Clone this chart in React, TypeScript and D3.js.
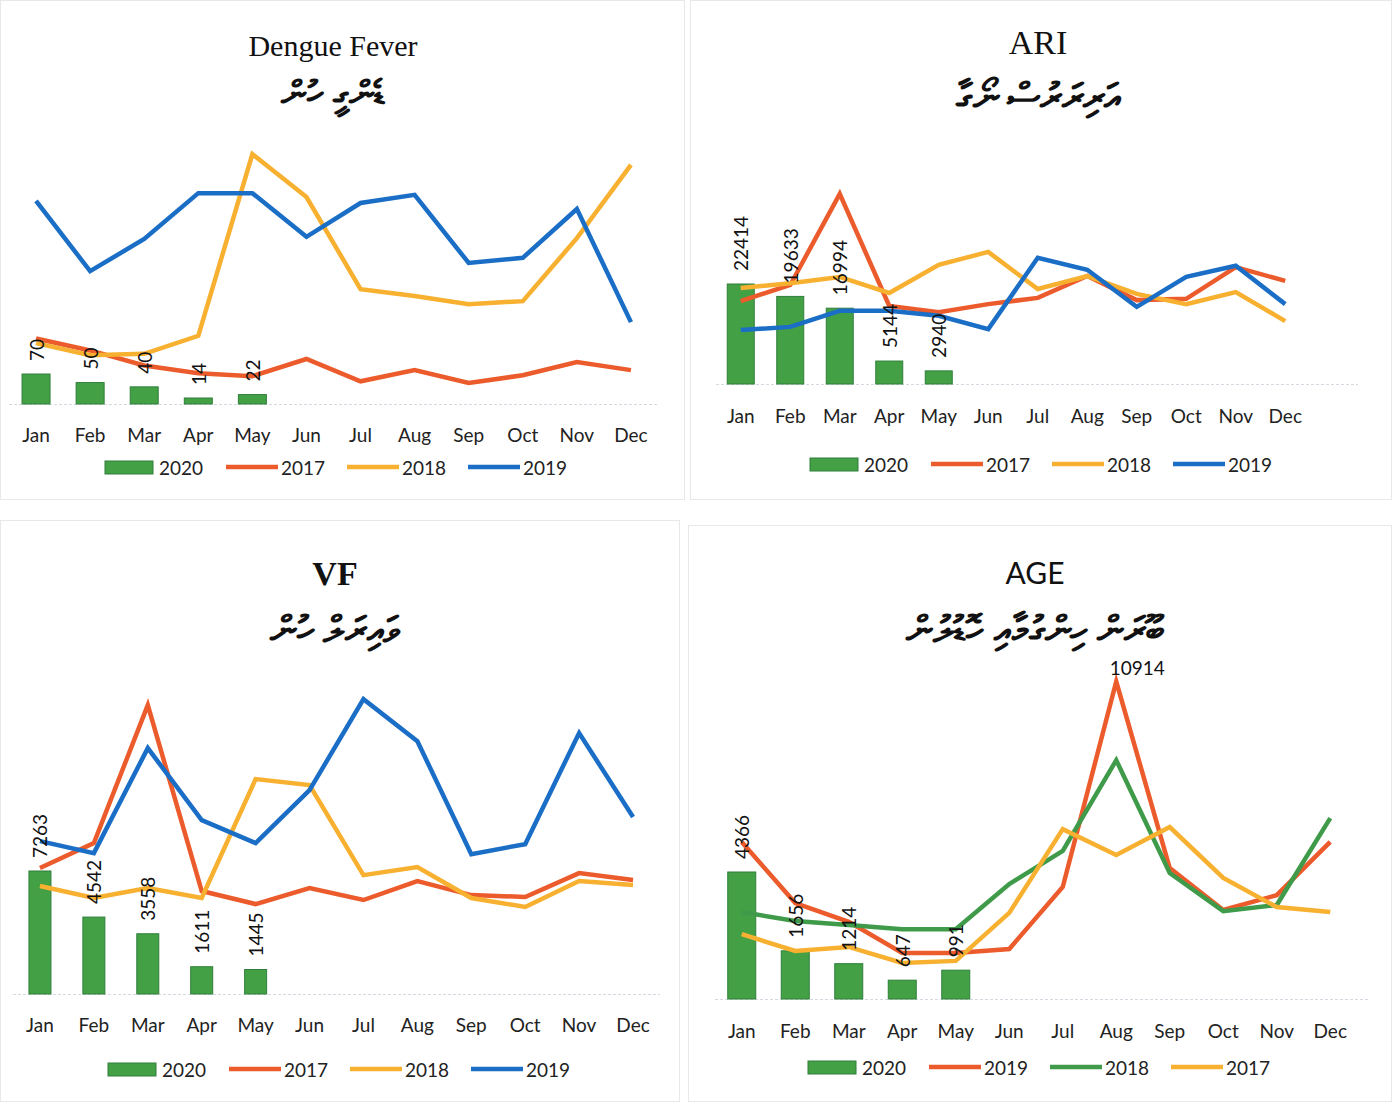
import { useEffect, useRef } from "react";
import * as d3 from "d3";

const months = ["Jan", "Feb", "Mar", "Apr", "May", "Jun", "Jul", "Aug", "Sep", "Oct", "Nov", "Dec"];

// Dengue Fever
const dengue2020 = [70, 50, 40, 14, 22];
const dengue2017 = [153, 125, 90, 72, 65, 105, 53, 79, 49, 67, 98, 79];
const dengue2018 = [142, 114, 117, 159, 583, 483, 268, 252, 233, 240, 387, 558];
const dengue2019 = [474, 310, 385, 492, 492, 390, 469, 488, 329, 341, 455, 191];

// ARI
const ari2020 = [22414, 19633, 16994, 5144, 2940];
const ari2017 = [18600, 22200, 42600, 17500, 16100, 17900, 19300, 24200, 18800, 19100, 26200, 23100];
const ari2018 = [21500, 22600, 24000, 20400, 26700, 29600, 21300, 24200, 20200, 17900, 20600, 14100];
const ari2019 = [12100, 12800, 16400, 16400, 15300, 12300, 28300, 25600, 17300, 24000, 26500, 17900];

// VF
const vf2020 = [7263, 4542, 3558, 1611, 1445];
const vf2017 = [7440, 8910, 17060, 6080, 5310, 6260, 5550, 6670, 5840, 5730, 7140, 6730];
const vf2018 = [6380, 5670, 6260, 5670, 12690, 12340, 7020, 7500, 5670, 5140, 6670, 6430];
const vf2019 = [9030, 8320, 14520, 10270, 8910, 12040, 17410, 14930, 8260, 8850, 15410, 10450];

// AGE
const age2020 = [4366, 1656, 1214, 647, 991];
const age2019 = [5400, 3300, 2650, 1580, 1580, 1720, 3850, 10914, 4500, 3060, 3570, 5400];
const age2018 = [2990, 2680, 2540, 2400, 2400, 3950, 5090, 8210, 4330, 3020, 3230, 6220];
const age2017 = [2230, 1650, 1790, 1240, 1310, 2960, 5840, 4950, 5910, 4160, 3160, 2990];

const RED = "#ec5b2c";
const YELLOW = "#f7b030";
const BLUE = "#1b6ec6";
const GREEN = "#3f9b4a";
const BAR = "#44a045";
const SANS = "Lato, 'Open Sans', sans-serif";
const SERIF = "'Liberation Serif', 'DejaVu Serif', serif";

interface Series {
  name: string;
  values: number[];
  color: string;
}

interface PanelCfg {
  frame: [number, number, number, number];
  title: string;
  titleFont: string;
  titleSize: number;
  titleWeight: string;
  thaana: string;
  thaanaSize: number;
  cx: number;
  titleY: number;
  thaanaY: number;
  left: number;
  right: number;
  gridRight: number;
  base: number;
  pxPerUnit: number;
  barW: number;
  bars: number[];
  lines: Series[];
  monthY: number;
  legendX: number;
  legendY: number;
  legendStep: number;
  peakLabel?: { series: number; month: number; dx: number; dy: number };
}

const panels: PanelCfg[] = [
  {
    frame: [0, 0, 685, 500],
    title: "Dengue Fever", titleFont: SERIF, titleSize: 30, titleWeight: "normal",
    thaana: "ޑެންގީ ހުން", thaanaSize: 36,
    cx: 333, titleY: 45, thaanaY: 92,
    left: 9, right: 658, gridRight: 658, base: 404, pxPerUnit: 30 / 70, barW: 28,
    bars: dengue2020,
    lines: [
      { name: "2017", values: dengue2017, color: RED },
      { name: "2018", values: dengue2018, color: YELLOW },
      { name: "2019", values: dengue2019, color: BLUE },
    ],
    monthY: 434, legendX: 105, legendY: 467, legendStep: 121,
  },
  {
    frame: [690, 0, 702, 500],
    title: "ARI", titleFont: SERIF, titleSize: 34, titleWeight: "normal",
    thaana: "އަރިރަރުސް ނޯގާ", thaanaSize: 38,
    cx: 1038, titleY: 42, thaanaY: 95,
    left: 716, right: 1310, gridRight: 1358, base: 384, pxPerUnit: 100 / 22414, barW: 27,
    bars: ari2020,
    lines: [
      { name: "2017", values: ari2017, color: RED },
      { name: "2018", values: ari2018, color: YELLOW },
      { name: "2019", values: ari2019, color: BLUE },
    ],
    monthY: 415, legendX: 810, legendY: 464, legendStep: 121,
  },
  {
    frame: [0, 520, 680, 582],
    title: "VF", titleFont: SERIF, titleSize: 34, titleWeight: "bold",
    thaana: "ވައިރަލް ހުން", thaanaSize: 38,
    cx: 335, titleY: 573, thaanaY: 628,
    left: 13, right: 660, gridRight: 660, base: 994, pxPerUnit: 123 / 7263, barW: 22,
    bars: vf2020,
    lines: [
      { name: "2017", values: vf2017, color: RED },
      { name: "2018", values: vf2018, color: YELLOW },
      { name: "2019", values: vf2019, color: BLUE },
    ],
    monthY: 1024, legendX: 108, legendY: 1069, legendStep: 121,
  },
  {
    frame: [688, 525, 704, 577],
    title: "AGE", titleFont: SANS, titleSize: 30, titleWeight: "normal",
    thaana: "ބޫރަން ހިންގުމާއި ހޮޑުލުން", thaanaSize: 38,
    cx: 1035, titleY: 572, thaanaY: 628,
    left: 715, right: 1357, gridRight: 1370, base: 999, pxPerUnit: 127 / 4366, barW: 28,
    bars: age2020,
    lines: [
      { name: "2019", values: age2019, color: RED },
      { name: "2018", values: age2018, color: GREEN },
      { name: "2017", values: age2017, color: YELLOW },
    ],
    monthY: 1030, legendX: 808, legendY: 1067, legendStep: 121,
    peakLabel: { series: 0, month: 7, dx: 21, dy: -14 },
  },
];

function Panel({ cfg }: { cfg: PanelCfg }) {
  const ref = useRef<SVGGElement>(null);

  useEffect(() => {
    if (!ref.current) return;
    const g = d3.select(ref.current);
    g.selectAll("*").remove();

    const x = d3.scalePoint<string>().domain(months).range([cfg.left, cfg.right]).padding(0.5);
    const maxV = d3.max([...cfg.bars, ...cfg.lines.flatMap((s) => s.values)]) || 1;
    const y = d3
      .scaleLinear()
      .domain([0, maxV])
      .range([cfg.base, cfg.base - maxV * cfg.pxPerUnit]);

    // faint panel frame from the scan
    const [fx, fy, fw, fh] = cfg.frame;
    g.append("rect")
      .attr("x", fx + 0.5).attr("y", fy + 0.5)
      .attr("width", fw - 1).attr("height", fh - 1)
      .attr("fill", "none").attr("stroke", "#e8e8ea");

    // titles
    g.append("text")
      .attr("x", cfg.cx).attr("y", cfg.titleY)
      .attr("text-anchor", "middle").attr("dominant-baseline", "central")
      .attr("font-family", cfg.titleFont).attr("font-size", cfg.titleSize)
      .attr("font-weight", cfg.titleWeight).attr("fill", "#111")
      .text(cfg.title);
    g.append("text")
      .attr("x", cfg.cx).attr("y", cfg.thaanaY)
      .attr("text-anchor", "middle").attr("dominant-baseline", "central")
      .attr("direction", "rtl")
      .attr("font-family", "'Noto Sans', 'DejaVu Sans', sans-serif").attr("font-size", cfg.thaanaSize)
      .attr("font-weight", "bold").attr("fill", "#111")
      .text(cfg.thaana);

    // baseline gridline
    g.append("line")
      .attr("x1", cfg.left).attr("x2", cfg.gridRight)
      .attr("y1", cfg.base + 0.5).attr("y2", cfg.base + 0.5)
      .attr("stroke", "#d4d8e0").attr("stroke-dasharray", "3,2");

    // 2020 bars
    g.selectAll("rect.bar")
      .data(cfg.bars)
      .join("rect")
      .attr("class", "bar")
      .attr("x", (_d, i) => (x(months[i]) ?? 0) - cfg.barW / 2)
      .attr("y", (d) => y(d))
      .attr("width", cfg.barW)
      .attr("height", (d) => cfg.base - y(d))
      .attr("fill", BAR)
      .attr("stroke", "#2f7f3a")
      .attr("stroke-width", 1);

    // year lines
    const line = d3
      .line<number>()
      .x((_d, i) => x(months[i]) ?? 0)
      .y((d) => y(d));
    cfg.lines.forEach((s) => {
      g.append("path")
        .attr("d", line(s.values) || "")
        .attr("fill", "none")
        .attr("stroke", s.color)
        .attr("stroke-width", 4.5)
        .attr("stroke-linejoin", "miter")
        .attr("stroke-linecap", "butt");
    });

    // rotated bar labels
    g.selectAll("text.blabel")
      .data(cfg.bars)
      .join("text")
      .attr("class", "blabel")
      .attr("transform", (d, i) => `translate(${x(months[i])},${y(d) - 13}) rotate(-90)`)
      .attr("dominant-baseline", "central")
      .attr("font-family", SANS).attr("font-size", 19).attr("fill", "#111")
      .text((d) => String(d));

    if (cfg.peakLabel) {
      const pl = cfg.peakLabel;
      const v = cfg.lines[pl.series].values[pl.month];
      g.append("text")
        .attr("x", (x(months[pl.month]) ?? 0) + pl.dx)
        .attr("y", y(v) + pl.dy)
        .attr("text-anchor", "middle").attr("dominant-baseline", "central")
        .attr("font-family", SANS).attr("font-size", 19).attr("fill", "#111")
        .text(String(v));
    }

    // month labels
    g.selectAll("text.month")
      .data(months)
      .join("text")
      .attr("class", "month")
      .attr("x", (d) => x(d) ?? 0)
      .attr("y", cfg.monthY)
      .attr("text-anchor", "middle").attr("dominant-baseline", "central")
      .attr("font-family", SANS).attr("font-size", 19).attr("fill", "#222")
      .text((d) => d);

    // legend
    const items = [{ name: "2020", color: BAR, bar: true }, ...cfg.lines.map((s) => ({ ...s, bar: false }))];
    items.forEach((it, i) => {
      const lx = cfg.legendX + i * cfg.legendStep;
      if (it.bar) {
        g.append("rect")
          .attr("x", lx).attr("y", cfg.legendY - 6)
          .attr("width", 48).attr("height", 13)
          .attr("fill", BAR).attr("stroke", "#2f7f3a");
      } else {
        g.append("line")
          .attr("x1", lx).attr("x2", lx + 52)
          .attr("y1", cfg.legendY).attr("y2", cfg.legendY)
          .attr("stroke", it.color).attr("stroke-width", 4.5);
      }
      g.append("text")
        .attr("x", lx + (it.bar ? 54 : 55)).attr("y", cfg.legendY)
        .attr("dominant-baseline", "central")
        .attr("font-family", SANS).attr("font-size", 19).attr("fill", "#222")
        .text(it.name);
    });
  }, [cfg]);

  return <g ref={ref} />;
}

export default function App() {
  useEffect(() => {
    document.body.style.margin = "0";
  }, []);
  return (
    <svg width={1392} height={1102} style={{ display: "block", background: "#fff" }}>
      <rect width={1392} height={1102} fill="#fff" />
      {panels.map((p) => (
        <Panel key={p.title} cfg={p} />
      ))}
    </svg>
  );
}
